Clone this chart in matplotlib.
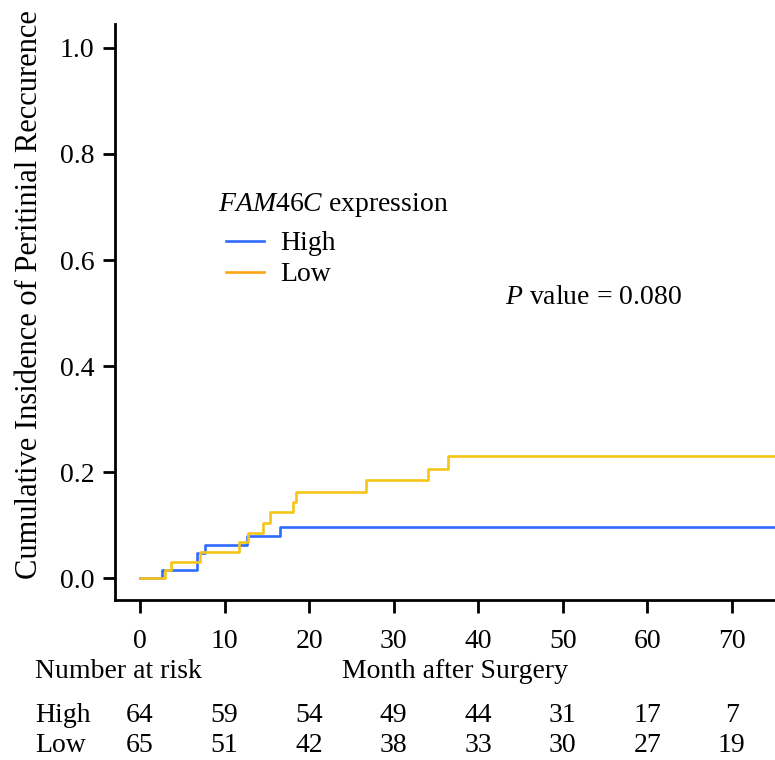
import matplotlib
matplotlib.use("Agg")
import matplotlib.pyplot as plt
import matplotlib.transforms as mtransforms
from matplotlib.lines import Line2D

# --- data ---
low_t = [0, 3.0, 3.7, 7.1, 11.7, 12.8, 14.6, 15.4, 18.1, 18.5, 26.7, 34.1, 36.4, 75.5]
low_v = [0, 0.0154, 0.031, 0.050, 0.068, 0.085, 0.104, 0.124, 0.144, 0.163, 0.185, 0.206, 0.231, 0.231]
high_t = [0, 2.6, 6.7, 7.7, 12.7, 16.6, 75.5]
high_v = [0, 0.0156, 0.047, 0.0625, 0.080, 0.096, 0.096]

risk_times = [0, 10, 20, 30, 40, 50, 60, 70]
risk_high = [64, 59, 54, 49, 44, 31, 17, 7]
risk_low = [65, 51, 42, 38, 33, 30, 27, 19]

blue = "#2f6bff"
gold = "#f5c518"
orange = "#ffa514"
fs = 20

plt.rcParams["font.family"] = ["Liberation Serif", "DejaVu Serif"]
plt.rcParams["mathtext.fontset"] = "custom"
plt.rcParams["mathtext.rm"] = "Liberation Serif"
plt.rcParams["mathtext.it"] = "Liberation Serif:italic"

fig = plt.figure(figsize=(7.75, 7.6), dpi=100)
ax = fig.add_axes([115 / 775, 160 / 760, 660 / 775, 576 / 760])

ax.step(high_t, high_v, where="post", color=blue, lw=1.9)
ax.step(low_t, low_v, where="post", color=gold, lw=1.9)

ax.set_xlim(-2.95, 75.1)
ax.set_ylim(-0.041, 1.045)
ax.set_xticks(risk_times)
ax.set_yticks([0, 0.2, 0.4, 0.6, 0.8, 1.0])
ax.set_yticklabels(["0.0", "0.2", "0.4", "0.6", "0.8", "1.0"])
ax.spines["top"].set_visible(False)
ax.spines["right"].set_visible(False)
for s in ["left", "bottom"]:
    ax.spines[s].set_linewidth(2)
ax.tick_params(axis="both", labelsize=fs, width=2, length=9, direction="out")
ax.tick_params(axis="x", pad=12)
ax.tick_params(axis="y", pad=6)

fig.text(30 / 775, 1 - 295 / 760, "Cumulative Insidence of Peritinial Reccurence",
         rotation=90, ha="center", va="center", fontsize=22)

# legend: title as separate text, entries slightly indented
fig.text(218 / 775, 1 - 205 / 760, r"$FAM46C$ expression", fontsize=fs,
         ha="left", va="center")
handles = [Line2D([], [], color=blue, lw=1.9), Line2D([], [], color=orange, lw=1.9)]
leg = ax.legend(handles, ["High", "Low"], frameon=False, fontsize=fs,
                loc="upper left", bbox_to_anchor=(111 / 660, 1 - 207 / 576),
                handlelength=1.35, handletextpad=0.6, labelspacing=0.2,
                borderpad=0, borderaxespad=0)

fig.text(505 / 775, 1 - 297 / 760, r"$P$ value = 0.080", fontsize=fs,
         ha="left", va="center")

fig.text(455 / 775, 1 - 672 / 760, "Month after Surgery", fontsize=fs,
         ha="center", va="center")
fig.text(35 / 775, 1 - 672 / 760, "Number at risk", fontsize=fs,
         ha="left", va="center")

trans = mtransforms.blended_transform_factory(ax.transData, fig.transFigure)
for label, counts, ypix in [("High", risk_high, 716), ("Low", risk_low, 745)]:
    fig.text(35 / 775, 1 - ypix / 760, label, fontsize=fs, ha="left", va="center")
    for t, n in zip(risk_times, counts):
        ax.text(t, 1 - ypix / 760, str(n), fontsize=fs, ha="center", va="center",
                transform=trans, clip_on=False)

fig.savefig("out.png", dpi=100)
